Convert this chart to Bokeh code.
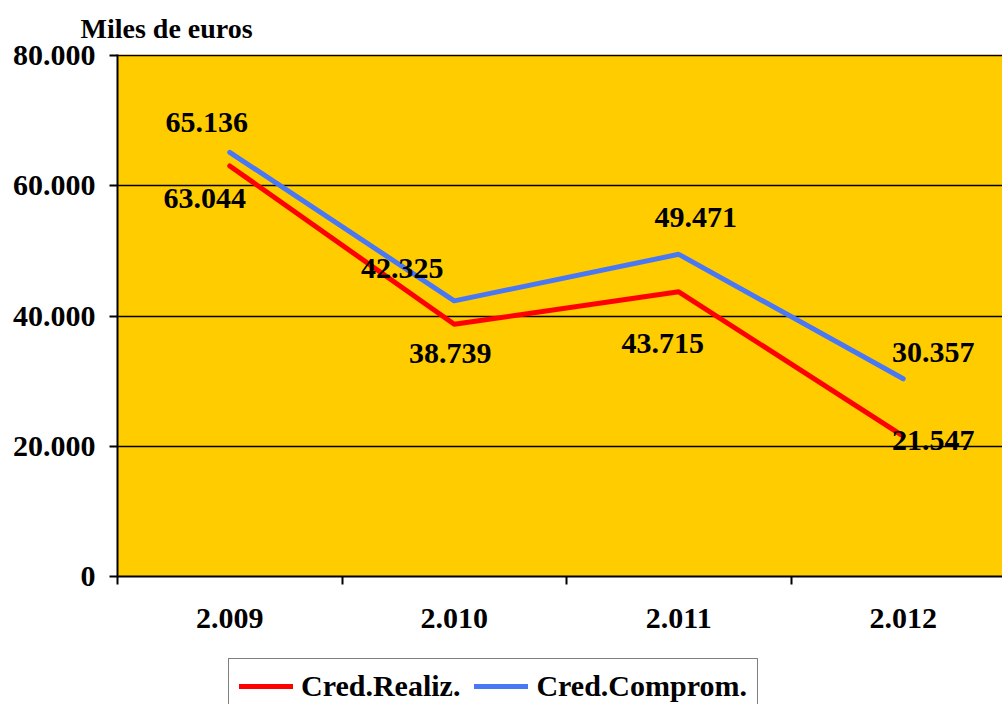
from bokeh.plotting import figure
from bokeh.layouts import column
from bokeh.models import (ColumnDataSource, FixedTicker, Legend, LegendItem, Title)
from bokeh.core.properties import value
from bokeh.embed import file_html
from bokeh.resources import INLINE

years = ["2.009", "2.010", "2.011", "2.012"]
cred_realiz = [63044, 38739, 43715, 21547]
cred_comprom = [65136, 42325, 49471, 30357]
realiz_labels = ["63.044", "38.739", "43.715", "21.547"]
comprom_labels = ["65.136", "42.325", "49.471", "30.357"]
series_names = ["Cred.Realiz.", "Cred.Comprom."]
y_ticks = [0, 20000, 40000, 60000, 80000]
y_tick_labels = ["0", "20.000", "40.000", "60.000", "80.000"]

# label placement (screen px offsets), styling only
realiz_dx = [-25, -4, -16, 30]
realiz_dy = [33, 29, 52, 4]
comprom_dx = [-23, -52, 17, 30]
comprom_dy = [-30, -32, -37, -26]

FONT = "Liberation Serif"
FS = "30px"
RED = "#FF0000"
BLUE = "#4A78F5"
xs = [i + 0.5 for i in range(len(years))]

p = figure(width=1002, height=658, output_backend="svg", toolbar_location=None,
           x_range=(0, 885 / 224.5), y_range=(0, 80000 * 522 / 521),
           min_border_left=117, min_border_right=0, min_border_top=54,
           min_border_bottom=82)
p.background_fill_color = "#FFCC00"
p.border_fill_color = "white"
p.outline_line_color = None

# y axis
p.yaxis.ticker = FixedTicker(ticks=y_ticks)
p.yaxis.major_label_overrides = {t: l for t, l in zip(y_ticks, y_tick_labels)}
p.yaxis.major_label_text_font = FONT
p.yaxis.major_label_text_font_style = "bold"
p.yaxis.major_label_text_font_size = FS
p.yaxis.major_label_text_color = "black"
p.yaxis.axis_line_color = "black"
p.yaxis.axis_line_width = 2
p.yaxis.major_tick_line_color = "black"
p.yaxis.major_tick_line_width = 2
p.yaxis.major_tick_out = 8
p.yaxis.major_tick_in = 0
p.yaxis.minor_tick_line_color = None
p.yaxis.major_label_standoff = 14

# x axis
p.xaxis.ticker = FixedTicker(ticks=xs, minor_ticks=[0, 1, 2, 3, 4])
p.xaxis.major_label_overrides = {x: y for x, y in zip(xs, years)}
p.xaxis.major_label_text_font = FONT
p.xaxis.major_label_text_font_style = "bold"
p.xaxis.major_label_text_font_size = FS
p.xaxis.major_label_text_color = "black"
p.xaxis.axis_line_color = "black"
p.xaxis.axis_line_width = 2
p.xaxis.major_tick_line_color = None
p.xaxis.minor_tick_line_color = "black"
p.xaxis.minor_tick_line_width = 2
p.xaxis.minor_tick_out = 8
p.xaxis.minor_tick_in = 0
p.xaxis.major_label_standoff = 24

p.xgrid.grid_line_color = None
p.ygrid.ticker = FixedTicker(ticks=y_ticks)
p.ygrid.grid_line_color = "black"
p.ygrid.grid_line_width = 1.5

src = ColumnDataSource(dict(x=xs, r=cred_realiz, c=cred_comprom,
                            rl=realiz_labels, cl=comprom_labels,
                            rdx=realiz_dx, rdy=realiz_dy, cdx=comprom_dx, cdy=comprom_dy))

p.line("x", "r", source=src, line_color=RED, line_width=5, line_cap="round", line_join="round")
p.line("x", "c", source=src, line_color=BLUE, line_width=5, line_cap="round", line_join="round")

for col, dx, dy in (("cl", "cdx", "cdy"), ("rl", "rdx", "rdy")):
    ycol = "c" if col == "cl" else "r"
    p.text(x="x", y=ycol, text=col, x_offset=dx, y_offset=dy, source=src,
           text_font=value(FONT), text_font_style="bold", text_font_size=FS,
           text_color="black", text_align="center", text_baseline="middle")

title = Title(text="Miles de euros", align="left", offset=-37, standoff=21,
              text_font=FONT, text_font_style="bold", text_font_size="28px",
              text_color="black")
p.add_layout(title, "above")

# legend strip below the chart (box cut by the window bottom, as in the reference)
p2 = figure(width=1002, height=46, output_backend="svg", toolbar_location=None,
            x_range=(100, 101), y_range=(-1, 0), min_border=0)
p2.axis.visible = False
p2.grid.grid_line_color = None
p2.outline_line_color = None
p2.background_fill_color = "white"
p2.border_fill_color = "white"
# same series, out of this strip's view: only their legend glyphs show
lr = p2.line("x", "r", source=src, line_color=RED, line_width=5, line_cap="round")
lb = p2.line("x", "c", source=src, line_color=BLUE, line_width=5, line_cap="round")

legend = Legend(items=[LegendItem(label=series_names[0], renderers=[lr]),
                       LegendItem(label=series_names[1], renderers=[lb])],
                orientation="horizontal", location=(111, -10))
legend.label_text_font = FONT
legend.label_text_font_style = "bold"
legend.label_text_font_size = FS
legend.label_text_color = "black"
legend.border_line_color = "black"
legend.border_line_width = 1.5
legend.background_fill_color = "white"
legend.background_fill_alpha = 1
legend.glyph_width = 54
legend.glyph_height = 24
legend.label_height = 24
legend.spacing = 14
legend.padding = 10
legend.margin = 0
legend.label_standoff = 8
p2.add_layout(legend, "center")

layout = column(p, p2, spacing=0)
open("out.html", "w").write(file_html(layout, INLINE))
